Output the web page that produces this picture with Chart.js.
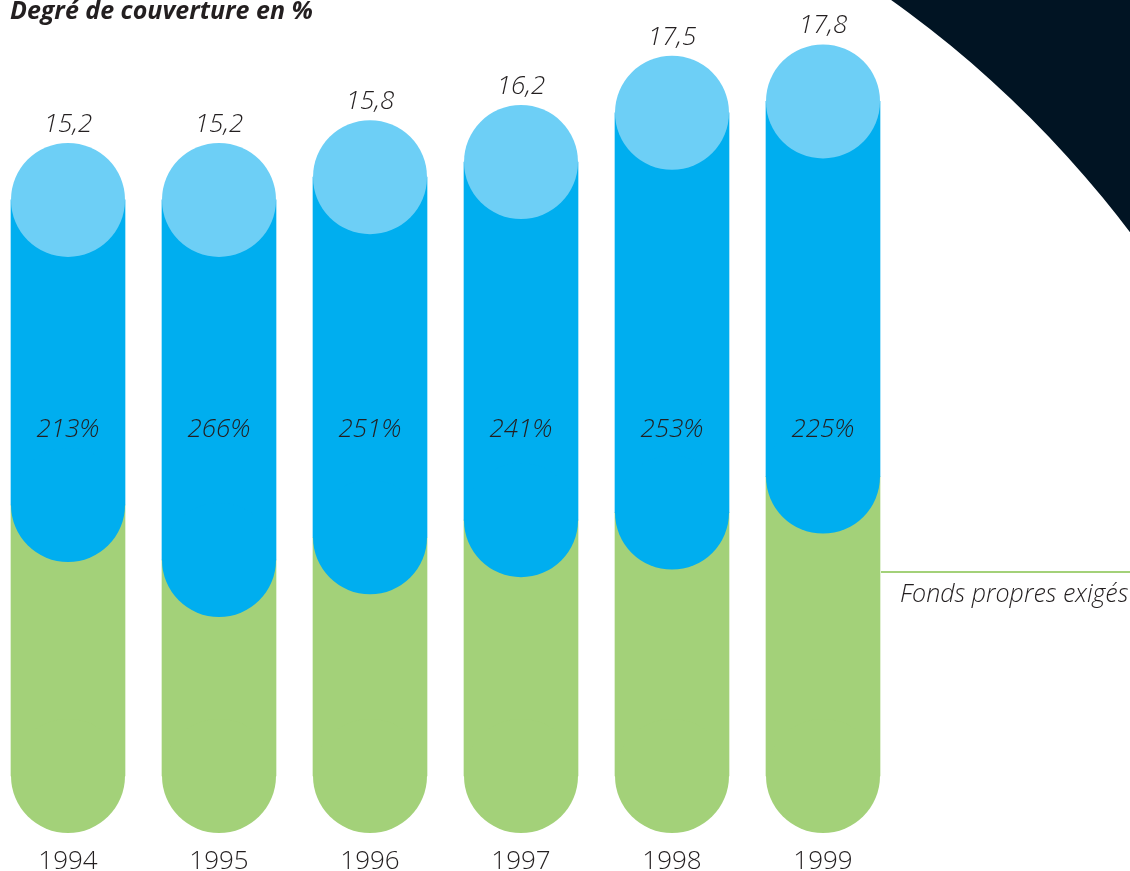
<!DOCTYPE html>
<html lang="fr">
<head>
<meta charset="utf-8">
<title>Degré de couverture en %</title>
<script src="https://cdn.jsdelivr.net/npm/chart.js@4.4.1/dist/chart.umd.min.js"></script>
<style>
    html, body { margin: 0; padding: 0; background: #fff; overflow: hidden; }
    #wrap { position: relative; width: 1130px; height: 871px; }
</style>
</head>
<body>
<div id="wrap"><canvas id="chartCoverage" width="1130" height="871"></canvas></div>
<script>
// Data
var years = ['1994', '1995', '1996', '1997', '1998', '1999'];
var ownFunds = [15.2, 15.2, 15.8, 16.2, 17.5, 17.8];        // total height (label above)
var requiredFunds = [7.15, 5.7, 6.3, 6.75, 6.95, 7.9];      // green part (fonds propres exigés)
var coverage = [213, 266, 251, 241, 253, 225];              // label in the blue part
var baseLine = [0, 0, 0, 0, 0, 0];

(function () {
    var GREEN = '#a3d179';
    var BLUE = '#00aeef';
    var LIGHT_BLUE = '#6dcff6';
    var NAVY = '#011423';
    var INK = '#231f20';
    var BAR_W = 114;
    var CAP_R = BAR_W / 2;

    var backdropPlugin = {
        id: 'backdrop',
        beforeDraw: function (chart) {
            var ctx = chart.ctx;
            ctx.save();
            ctx.fillStyle = '#fff';
            ctx.fillRect(0, 0, chart.width, chart.height);
            // big dark disc edge in the top right corner
            ctx.beginPath();
            ctx.rect(0, 0, chart.width, chart.height);
            ctx.moveTo(256 + 1095, 892);
            ctx.arc(256, 892, 1095, 0, Math.PI * 2, true);
            ctx.fillStyle = NAVY;
            ctx.fill('evenodd');
            ctx.restore();
        }
    };

    var labelsPlugin = {
        id: 'pillLabels',
        afterDatasetsDraw: function (chart) {
            var ctx = chart.ctx;
            var tops = chart.getDatasetMeta(0).data;
            ctx.save();
            ctx.fillStyle = INK;
            ctx.textAlign = 'center';
            ctx.textBaseline = 'alphabetic';

            tops.forEach(function (pt, i) {
                ctx.font = 'italic 300 26px "Open Sans", "Noto Sans", sans-serif';
                ctx.fillText(ownFunds[i].toFixed(1).replace('.', ','), pt.x, pt.y - CAP_R - 11);
                ctx.fillText(coverage[i] + '%', pt.x, 437);
                ctx.font = '300 26px "Open Sans", "Noto Sans", sans-serif';
                ctx.fillText(years[i], pt.x, 869);
            });

            // title
            ctx.textAlign = 'left';
            ctx.font = 'italic bold 25px "Open Sans", "Noto Sans", sans-serif';
            ctx.fillText('Degré de couverture en %', 10, 19);

            // fonds propres exigés marker
            ctx.strokeStyle = GREEN;
            ctx.lineWidth = 2;
            ctx.beginPath();
            ctx.moveTo(881, 572);
            ctx.lineTo(chart.width, 572);
            ctx.stroke();
            ctx.font = 'italic 300 25px "Open Sans", "Noto Sans", sans-serif';
            ctx.fillText('Fonds propres exigés', 900, 602);
            ctx.restore();
        }
    };

    function capDataset(data, color, order) {
        return {
            type: 'line',
            data: data,
            order: order,
            showLine: false,
            clip: false,
            pointStyle: 'circle',
            pointRadius: CAP_R,
            pointHoverRadius: CAP_R,
            pointBorderWidth: 0,
            pointBackgroundColor: color,
            borderColor: color
        };
    }

    var canvas = document.getElementById('chartCoverage');

    new Chart(canvas, {
        type: 'bar',
        data: {
            labels: years,
            datasets: [
                capDataset(ownFunds, LIGHT_BLUE, 0),
                capDataset(requiredFunds, BLUE, 1),
                {
                    label: 'Fonds propres',
                    data: years.map(function (y, i) { return [requiredFunds[i], ownFunds[i]]; }),
                    order: 2,
                    backgroundColor: BLUE,
                    borderWidth: 0,
                    clip: false
                },
                capDataset(baseLine, GREEN, 3),
                {
                    label: 'Fonds propres exigés',
                    data: requiredFunds,
                    order: 4,
                    backgroundColor: GREEN,
                    borderWidth: 0,
                    clip: false
                }
            ]
        },
        options: {
            responsive: false,
            animation: false,
            events: [],
            barThickness: BAR_W,
            grouped: false,
            layout: {
                autoPadding: false,
                padding: { top: 18, bottom: 95, left: 68, right: 307 }
            },
            scales: {
                x: { display: false, offset: false },
                y: { display: false, min: 0, max: 20 }
            },
            plugins: {
                legend: { display: false },
                tooltip: { enabled: false },
                title: { display: false }
            }
        },
        plugins: [backdropPlugin, labelsPlugin]
    });
})();
</script>
</body>
</html>
